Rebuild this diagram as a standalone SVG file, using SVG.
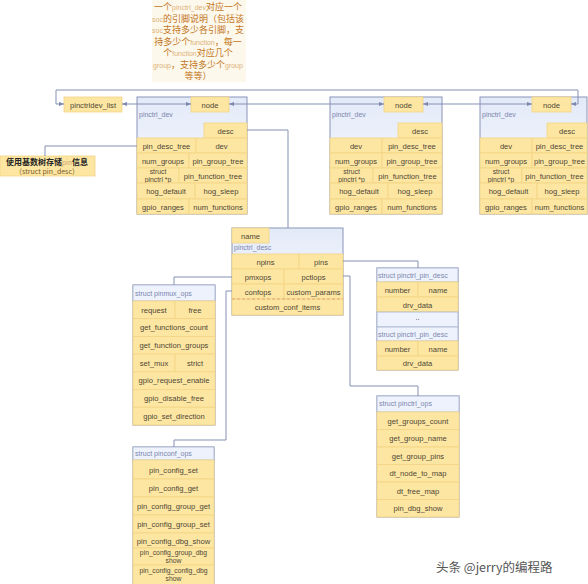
<svg xmlns="http://www.w3.org/2000/svg" width="588" height="584" viewBox="0 0 588 584">
<defs>
<linearGradient id="bg" x1="0" y1="0" x2="0" y2="1"><stop offset="0" stop-color="#e3eaf8"/><stop offset="1" stop-color="#fbfcff"/></linearGradient>
<marker id="ar" viewBox="0 0 6 6" refX="6" refY="3" markerWidth="5" markerHeight="5" orient="auto-start-reverse"><path d="M0,0.5 L6,3 L0,5.5 z" fill="#7d88ad"/></marker>
</defs>
<style>
.frame{fill:url(#bg);stroke:#8a94b8;stroke-width:1}
.cell{fill:#fde6a2;stroke:#f2d485;stroke-width:0.8}
.hdr{fill:#edf2fc;stroke:#a8b2cc;stroke-width:0.8}
.t{font-family:"Liberation Sans",Arial,sans-serif;font-size:7.6px;fill:#4e4636;text-anchor:middle}
.s{font-size:6.8px}
.lb{font-family:"Liberation Sans",Arial,sans-serif;font-size:7px;fill:#7c86ae}
.conn{fill:none;stroke:#8590b4;stroke-width:1}
.ann{font-family:"Noto Sans CJK SC",sans-serif;font-size:9px;fill:#c27622;text-anchor:middle}
.ann tspan.l{fill:#dcb27a;font-size:7px;font-family:"Liberation Sans",sans-serif}
</style>
<rect width="588" height="584" fill="#ffffff"/>

<g id="annotation">
<rect x="152" y="0" width="94" height="82" fill="#fdf8ec"/>
<text class="ann" x="198" y="10">一个<tspan class="l">pinctrl_dev</tspan>对应一个</text>
<text class="ann" x="198" y="21.5"><tspan class="l">soc</tspan>的引脚说明（包括该</text>
<text class="ann" x="198" y="33"><tspan class="l">soc</tspan>支持多少各引脚，支</text>
<text class="ann" x="198" y="44.5">持多少个<tspan class="l">function</tspan>，每一</text>
<text class="ann" x="198" y="56">个<tspan class="l">function</tspan>对应几个</text>
<text class="ann" x="198" y="67.5"><tspan class="l">group</tspan>，支持多少个<tspan class="l">group</tspan></text>
<text class="ann" x="198" y="79">等等）</text>
</g>

<g id="radix-note">
<rect x="0" y="156" width="95" height="20" class="cell"/>
<text x="47" y="164.5" font-family="Noto Sans CJK SC,sans-serif" font-size="8" fill="#222" text-anchor="middle" font-weight="bold">使用基数树存储<tspan font-weight="normal" fill="#c8a070" font-size="6.5">pin</tspan>信息</text>
<text x="47" y="174" font-family="Noto Sans CJK SC,sans-serif" font-size="7" fill="#7a5a2a" text-anchor="middle">（struct pin_desc）</text>
</g>

<g id="pinctrldev_list">
<rect x="64" y="97" width="58" height="15" class="cell"/>
<text class="t" x="93" y="107.5">pinctrldev_list</text>
</g>

<g id="pinctrl_dev_1">
<rect x="137" y="97" width="110" height="117" class="frame"/>
<rect x="191" y="97" width="38" height="15" class="cell"/><text class="t" x="210" y="107.5">node</text>
<text class="lb" x="139" y="117">pinctrl_dev</text>
<rect x="204" y="123" width="43" height="15" class="cell"/><text class="t" x="225.5" y="133.5">desc</text>
<rect x="137" y="138" width="59" height="15" class="cell"/><text class="t" x="166.5" y="148.5">pin_desc_tree</text>
<rect x="196" y="138" width="51" height="15" class="cell"/><text class="t" x="221.5" y="148.5">dev</text>
<rect x="137" y="153" width="52" height="15" class="cell"/><text class="t" x="163" y="163.5">num_groups</text>
<rect x="189" y="153" width="58" height="15" class="cell"/><text class="t" x="218" y="163.5">pin_group_tree</text>
<rect x="137" y="168" width="42" height="15" class="cell"/><text class="t s" x="158" y="174">struct</text><text class="t s" x="158" y="181.5">pinctrl *p</text>
<rect x="179" y="168" width="68" height="15" class="cell"/><text class="t" x="213" y="178.5">pin_function_tree</text>
<rect x="137" y="183" width="58" height="16" class="cell"/><text class="t" x="166" y="194">hog_default</text>
<rect x="195" y="183" width="52" height="16" class="cell"/><text class="t" x="221" y="194">hog_sleep</text>
<rect x="137" y="199" width="52" height="15" class="cell"/><text class="t" x="163" y="209.5">gpio_ranges</text>
<rect x="189" y="199" width="58" height="15" class="cell"/><text class="t" x="218" y="209.5">num_functions</text>
</g>

<g id="pinctrl_dev_2">
<rect x="330" y="97" width="112" height="117" class="frame"/>
<rect x="384" y="97" width="39" height="15" class="cell"/><text class="t" x="403.5" y="107.5">node</text>
<text class="lb" x="332" y="117">pinctrl_dev</text>
<rect x="398" y="123" width="44" height="15" class="cell"/><text class="t" x="420" y="133.5">desc</text>
<rect x="330" y="138" width="52" height="15" class="cell"/><text class="t" x="356" y="148.5">dev</text>
<rect x="382" y="138" width="60" height="15" class="cell"/><text class="t" x="412" y="148.5">pin_desc_tree</text>
<rect x="330" y="153" width="52" height="15" class="cell"/><text class="t" x="356" y="163.5">num_groups</text>
<rect x="382" y="153" width="60" height="15" class="cell"/><text class="t" x="412" y="163.5">pin_group_tree</text>
<rect x="330" y="168" width="43" height="15" class="cell"/><text class="t s" x="351.5" y="174">struct</text><text class="t s" x="351.5" y="181.5">pinctrl *p</text>
<rect x="373" y="168" width="69" height="15" class="cell"/><text class="t" x="407.5" y="178.5">pin_function_tree</text>
<rect x="330" y="183" width="58" height="16" class="cell"/><text class="t" x="359" y="194">hog_default</text>
<rect x="388" y="183" width="54" height="16" class="cell"/><text class="t" x="415" y="194">hog_sleep</text>
<rect x="330" y="199" width="52" height="15" class="cell"/><text class="t" x="356" y="209.5">gpio_ranges</text>
<rect x="382" y="199" width="60" height="15" class="cell"/><text class="t" x="412" y="209.5">num_functions</text>
</g>

<g id="pinctrl_dev_3">
<rect x="480" y="97" width="107" height="117" class="frame"/>
<rect x="532" y="97" width="39" height="15" class="cell"/><text class="t" x="551.5" y="107.5">node</text>
<text class="lb" x="482" y="117">pinctrl_dev</text>
<rect x="547" y="123" width="40" height="15" class="cell"/><text class="t" x="567" y="133.5">desc</text>
<rect x="480" y="138" width="52" height="15" class="cell"/><text class="t" x="506" y="148.5">dev</text>
<rect x="532" y="138" width="55" height="15" class="cell"/><text class="t" x="559.5" y="148.5">pin_desc_tree</text>
<rect x="480" y="153" width="52" height="15" class="cell"/><text class="t" x="506" y="163.5">num_groups</text>
<rect x="532" y="153" width="55" height="15" class="cell"/><text class="t" x="559.5" y="163.5">pin_group_tree</text>
<rect x="480" y="168" width="42" height="15" class="cell"/><text class="t s" x="501" y="174">struct</text><text class="t s" x="501" y="181.5">pinctrl *p</text>
<rect x="522" y="168" width="65" height="15" class="cell"/><text class="t" x="554.5" y="178.5">pin_function_tree</text>
<rect x="480" y="183" width="57" height="16" class="cell"/><text class="t" x="508.5" y="194">hog_default</text>
<rect x="537" y="183" width="50" height="16" class="cell"/><text class="t" x="562" y="194">hog_sleep</text>
<rect x="480" y="199" width="52" height="15" class="cell"/><text class="t" x="506" y="209.5">gpio_ranges</text>
<rect x="532" y="199" width="55" height="15" class="cell"/><text class="t" x="559.5" y="209.5">num_functions</text>
</g>

<g id="pinctrl_desc">
<rect x="232" y="228" width="111" height="87" class="frame"/>
<rect x="232" y="228" width="37" height="15" class="cell"/><text class="t" x="250.5" y="238.5">name</text>
<text class="lb" x="234" y="249.5">pinctrl_desc</text>
<rect x="232" y="254" width="67" height="15" class="cell"/><text class="t" x="265.5" y="264.5">npins</text>
<rect x="299" y="254" width="44" height="15" class="cell"/><text class="t" x="321" y="264.5">pins</text>
<rect x="232" y="269" width="52" height="15" class="cell"/><text class="t" x="258" y="279.5">pmxops</text>
<rect x="284" y="269" width="59" height="15" class="cell"/><text class="t" x="313.5" y="279.5">pctlops</text>
<rect x="232" y="284" width="52" height="15" class="cell"/><text class="t" x="258" y="294.5">confops</text>
<rect x="284" y="284" width="59" height="15" class="cell"/><text class="t" x="313.5" y="294.5">custom_params</text>
<rect x="232" y="299" width="111" height="16" class="cell"/><text class="t" x="287.5" y="310">custom_conf_items</text>
<line x1="232" y1="299" x2="343" y2="299" stroke="#d89a70" stroke-width="0.8" stroke-dasharray="3,2"/>
</g>

<g id="pinmux_ops">
<rect x="133" y="285" width="82" height="140" class="frame"/>
<rect x="133" y="285" width="82" height="16" class="hdr"/>
<text class="lb" x="135" y="295.5">struct pinmux_ops</text>
<rect x="133" y="301" width="42" height="17.7" class="cell"/><text class="t" x="154" y="312.5">request</text>
<rect x="175" y="301" width="40" height="17.7" class="cell"/><text class="t" x="195" y="312.5">free</text>
<rect x="133" y="318.7" width="82" height="17.7" class="cell"/><text class="t" x="174" y="330.2">get_functions_count</text>
<rect x="133" y="336.4" width="82" height="17.7" class="cell"/><text class="t" x="174" y="347.9">get_function_groups</text>
<rect x="133" y="354.1" width="42" height="17.7" class="cell"/><text class="t" x="154" y="365.6">set_mux</text>
<rect x="175" y="354.1" width="40" height="17.7" class="cell"/><text class="t" x="195" y="365.6">strict</text>
<rect x="133" y="371.8" width="82" height="17.7" class="cell"/><text class="t" x="174" y="383.3">gpio_request_enable</text>
<rect x="133" y="389.5" width="82" height="17.7" class="cell"/><text class="t" x="174" y="401">gpio_disable_free</text>
<rect x="133" y="407.2" width="82" height="17.8" class="cell"/><text class="t" x="174" y="418.7">gpio_set_direction</text>
</g>

<g id="pinctrl_pin_desc">
<rect x="377" y="268" width="81" height="102" class="frame"/>
<rect x="377" y="268" width="81" height="14" class="hdr"/>
<text class="lb" x="378" y="277.5" font-size="6.6">struct pinctrl_pin_desc</text>
<rect x="377" y="282" width="41" height="15" class="cell"/><text class="t" x="397.5" y="292.5">number</text>
<rect x="418" y="282" width="40" height="15" class="cell"/><text class="t" x="438" y="292.5">name</text>
<rect x="377" y="297" width="81" height="15" class="cell"/><text class="t" x="417.5" y="307.5">drv_data</text>
<rect x="377" y="312" width="81" height="15" class="hdr"/><text class="t" x="417.5" y="320">..</text>
<rect x="377" y="327" width="81" height="14" class="hdr"/>
<text class="lb" x="378" y="336.5" font-size="6.6">struct pinctrl_pin_desc</text>
<rect x="377" y="341" width="41" height="15" class="cell"/><text class="t" x="397.5" y="351.5">number</text>
<rect x="418" y="341" width="40" height="15" class="cell"/><text class="t" x="438" y="351.5">name</text>
<rect x="377" y="356" width="81" height="14" class="cell"/><text class="t" x="417.5" y="366">drv_data</text>
</g>

<g id="pinctrl_ops">
<rect x="377" y="396" width="82" height="121" class="frame"/>
<rect x="377" y="396" width="82" height="16" class="hdr"/>
<text class="lb" x="379" y="406">struct pinctrl_ops</text>
<rect x="377" y="412" width="82" height="17.5" class="cell"/><text class="t" x="418" y="423.5">get_groups_count</text>
<rect x="377" y="429.5" width="82" height="17.5" class="cell"/><text class="t" x="418" y="441">get_group_name</text>
<rect x="377" y="447" width="82" height="17.5" class="cell"/><text class="t" x="418" y="458.5">get_group_pins</text>
<rect x="377" y="464.5" width="82" height="17.5" class="cell"/><text class="t" x="418" y="476">dt_node_to_map</text>
<rect x="377" y="482" width="82" height="17.5" class="cell"/><text class="t" x="418" y="493.5">dt_free_map</text>
<rect x="377" y="499.5" width="82" height="17.5" class="cell"/><text class="t" x="418" y="511">pin_dbg_show</text>
</g>

<g id="pinconf_ops">
<rect x="133" y="447" width="81" height="145" class="frame"/>
<rect x="133" y="447" width="81" height="13" class="hdr"/>
<text class="lb" x="135" y="456">struct pinconf_ops</text>
<rect x="133" y="460" width="81" height="19" class="cell"/><text class="t" x="173.5" y="472.5">pin_config_set</text>
<rect x="133" y="479" width="81" height="18" class="cell"/><text class="t" x="173.5" y="491">pin_config_get</text>
<rect x="133" y="497" width="81" height="18" class="cell"/><text class="t" x="173.5" y="509">pin_config_group_get</text>
<rect x="133" y="515" width="81" height="18" class="cell"/><text class="t" x="173.5" y="527">pin_config_group_set</text>
<rect x="133" y="533" width="81" height="15" class="cell"/><text class="t" x="173.5" y="543.5">pin_config_dbg_show</text>
<rect x="133" y="548" width="81" height="17" class="cell"/><text class="t s" x="173.5" y="555">pin_config_group_dbg</text><text class="t s" x="173.5" y="563">show</text>
<rect x="133" y="565" width="81" height="27" class="cell"/><text class="t s" x="173.5" y="573">pin_config_config_dbg</text><text class="t s" x="173.5" y="581">show</text>
</g>

<g id="connectors">
<line class="conn" x1="122" y1="104" x2="191" y2="104" marker-start="url(#ar)" marker-end="url(#ar)"/>
<line class="conn" x1="229" y1="104" x2="384" y2="104" marker-start="url(#ar)" marker-end="url(#ar)"/>
<line class="conn" x1="423" y1="104" x2="532" y2="104" marker-start="url(#ar)" marker-end="url(#ar)"/>
<polyline class="conn" points="571,104 578,104 578,90 56,90 56,104 64,104" marker-start="url(#ar)" marker-end="url(#ar)"/>
<polyline class="conn" points="137,146 45,146 45,156"/>
<polyline class="conn" points="247,130 288,130 288,228"/>
<polyline class="conn" points="343,261 418,261 418,268"/>
<polyline class="conn" points="232,277 174,277 174,285"/>
<polyline class="conn" points="232,291 226,291 226,440 174,440 174,447"/>
<polyline class="conn" points="343,276 350,276 350,386 418,386 418,396"/>
</g>

<text x="436" y="572" font-family="Noto Sans CJK SC,sans-serif" font-size="12.5" fill="#555">头条 @jerry的编程路</text>
</svg>
